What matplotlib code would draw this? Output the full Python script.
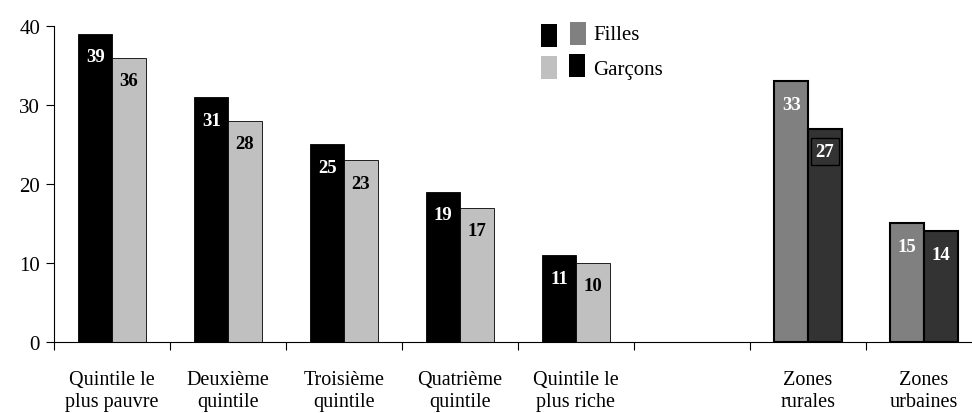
import matplotlib.pyplot as plt
from matplotlib.patches import Rectangle

plt.rcParams['font.family'] = ['Liberation Serif', 'DejaVu Serif']

categories = ["Quintile le\nplus pauvre", "Deuxième\nquintile", "Troisième\nquintile",
              "Quatrième\nquintile", "Quintile le\nplus riche", "", "Zones\nrurales", "Zones\nurbaines"]
filles = [39, 31, 25, 19, 11, None, 33, 15]
garcons = [36, 28, 23, 17, 10, None, 27, 14]

fig = plt.figure(figsize=(9.72, 4.14), dpi=100)
ax = fig.add_axes([54 / 972, 0.1715, 1 - 54 / 972, 0.7633])

w = 0.29
for i, (f, g) in enumerate(zip(filles, garcons)):
    if f is None:
        continue
    if i < 5:
        fc, gc, lw = "black", "#c0c0c0", 0.6
        ftc, gtc = "white", "black"
    else:
        fc, gc, lw = "#808080", "#333333", 1.5
        ftc, gtc = "white", "white"
    ax.bar(i - w / 2, f, w, color=fc, edgecolor="black", linewidth=lw)
    ax.bar(i + w / 2, g, w, color=gc, edgecolor="black", linewidth=lw)
    ax.text(i - w / 2, f - 2.9, str(f), ha="center", va="center", color=ftc,
            fontsize=13.5, fontweight="bold")
    box = None
    if g == 27:
        box = dict(boxstyle="square,pad=0.25", fc="#333333", ec="black", lw=1)
    ax.text(i + w / 2, g - 2.9, str(g), ha="center", va="center", color=gtc,
            fontsize=13.5, fontweight="bold", bbox=box)

ax.set_xlim(-0.5, -0.5 + (972 - 54) / 116)
ax.set_ylim(0, 40)
ax.set_yticks([0, 10, 20, 30, 40])
ax.tick_params(axis="y", labelsize=15, length=6, width=0.8, pad=4)
ax.set_xticks([i - 0.5 for i in range(8)])
ax.set_xticklabels([])
ax.tick_params(axis="x", length=6, width=0.8)
for i, c in enumerate(categories):
    ax.text(i, -3.6, c, ha="center", va="top", fontsize=14.5, linespacing=1.2)
for s in ["top", "right"]:
    ax.spines[s].set_visible(False)

# legend drawn by hand, two columns of swatches
H, W = 414, 972
def sw(x, y, color):
    fig.patches.append(Rectangle((x / W, 1 - (y + 23) / H), 16 / W, 23 / H,
                                 transform=fig.transFigure, fc=color, ec="none"))
sw(541, 25, "black")
sw(570, 23, "#808080")
sw(541, 57, "#c0c0c0")
sw(569, 55, "black")
fig.text(593 / W, 1 - 35 / H, "Filles", fontsize=15, va="center")
fig.text(593 / W, 1 - 70 / H, "Garçons", fontsize=15, va="center")

fig.savefig("out.png", dpi=100)
